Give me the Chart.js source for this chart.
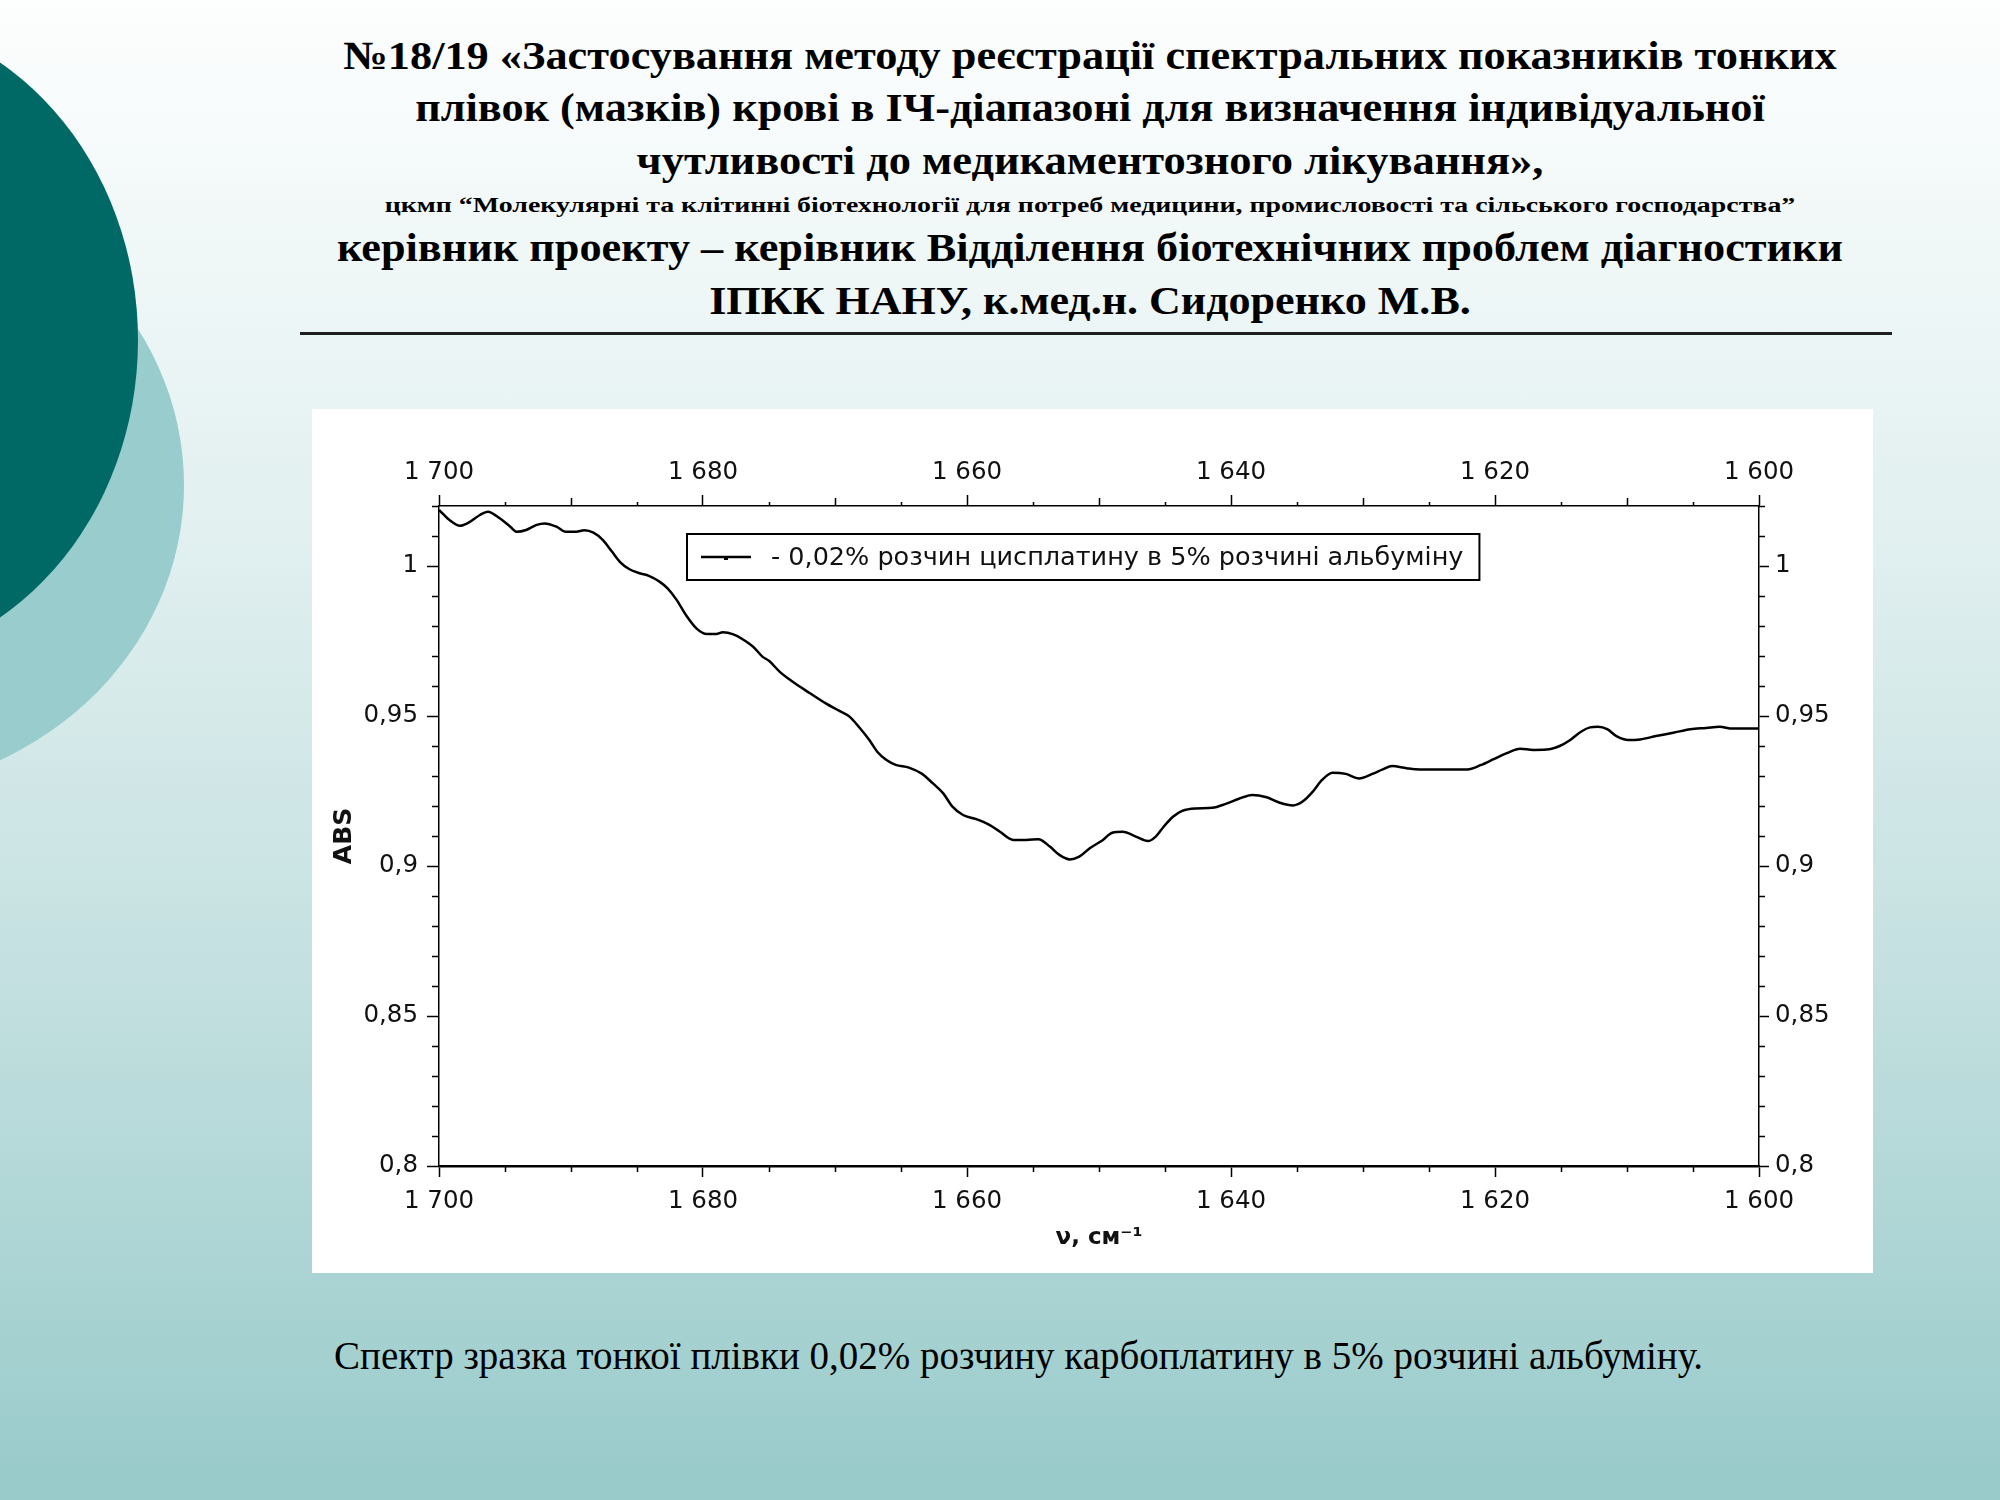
<!DOCTYPE html>
<html>
<head>
<meta charset="utf-8">
<title>Спектр зразка тонкої плівки</title>
<style>
    html, body { margin: 0; padding: 0; }
    body {
        width: 2000px; height: 1500px; overflow: hidden; position: relative;
        background: linear-gradient(to bottom, #fdfefe 0%, #e2f0f0 35%, #c4e0e0 65%, #98caca 100%);
        font-family: "Liberation Serif", "Times New Roman", serif; color: #000;
    }
    .blob { position: absolute; border-radius: 50%; }
    #blobLight { left: -484px; top: 177px; width: 668px; height: 616px; background: #99cccc; }
    #blobDark { left: -438px; top: 15px; width: 576px; height: 650px; background: #006966; }
    .tl {
        position: absolute; left: 1090px; white-space: nowrap; line-height: 1;
        font-weight: bold; transform-origin: center;
    }
    .big { font-size: 40px; }
    .small { font-size: 20px; }
    #rule { position: absolute; left: 300px; top: 332px; width: 1592px; height: 3px; background: #1e1e1e; }
    #panel { position: absolute; left: 312px; top: 409px; width: 1561px; height: 864px; background: #fff; }
    #caption {
        position: absolute; left: 334px; top: 1336px; font-size: 40px; line-height: 1;
        white-space: nowrap; transform-origin: left center;
    }
</style>
</head>
<body>
<div class="blob" id="blobLight"></div>
<div class="blob" id="blobDark"></div>

<div class="tl big" style="top:36px" data-w="1493">№18/19 «Застосування методу реєстрації спектральних показників тонких</div>
<div class="tl big" style="top:88px" data-w="1350">плівок (мазків) крові в ІЧ-діапазоні для визначення індивідуальної</div>
<div class="tl big" style="top:141px" data-w="907">чутливості до медикаментозного лікування»,</div>
<div class="tl small" style="top:195px" data-w="1410">цкмп “Молекулярні та клітинні біотехнології для потреб медицини, промисловості та сільського господарства”</div>
<div class="tl big" style="top:228px" data-w="1506">керівник проекту – керівник Відділення біотехнічних проблем діагностики</div>
<div class="tl big" style="top:281px" data-w="762">ІПКК НАНУ, к.мед.н. Сидоренко М.В.</div>
<div id="rule"></div>

<div id="panel"><canvas id="spectrum" width="1561" height="864"></canvas></div>

<div id="caption" data-w="1369">Спектр зразка тонкої плівки 0,02% розчину карбоплатину в 5% розчині альбуміну.</div>

<script src="https://cdn.jsdelivr.net/npm/chart.js"></script>
<script>
// wavenumber, cm-1 (left to right)
const wavenumber = [
    1700.0, 1699.2, 1698.4, 1697.7, 1696.9, 1696.3, 1695.4, 1694.6, 1694.1, 1693.4,
    1692.6, 1692.0, 1691.1, 1690.4, 1689.6, 1689.0, 1688.3, 1687.6, 1686.9, 1686.3,
    1685.6, 1684.8, 1684.1, 1683.3, 1682.7, 1682.0, 1681.3, 1680.5, 1679.7, 1679.0,
    1678.5, 1677.7, 1677.0, 1676.2, 1675.5, 1675.0, 1674.2, 1673.2, 1671.9, 1670.7,
    1669.7, 1668.9, 1668.2, 1667.4, 1666.8, 1666.1, 1665.4, 1664.4, 1663.4, 1662.6,
    1661.8, 1661.1, 1660.3, 1659.3, 1658.3, 1657.5, 1656.5, 1655.5, 1654.6, 1653.7,
    1653.0, 1652.2, 1651.5, 1650.7, 1649.7, 1649.0, 1648.2, 1647.2, 1646.3, 1645.7,
    1645.1, 1644.4, 1643.7, 1642.7, 1641.4, 1640.4, 1639.4, 1638.4, 1637.3, 1636.3,
    1635.3, 1634.6, 1633.8, 1633.1, 1632.3, 1631.3, 1630.3, 1629.3, 1628.5, 1627.8,
    1626.7, 1625.7, 1623.9, 1622.1, 1621.1, 1620.1, 1619.1, 1618.1, 1617.1, 1616.1,
    1615.1, 1614.3, 1613.6, 1612.8, 1612.2, 1611.5, 1610.8, 1609.9, 1609.0, 1607.8,
    1606.5, 1605.2, 1604.0, 1603.0, 1602.0, 1600.0
];
// absorbance
const absorbance = [
    1.0187, 1.0153, 1.0134, 1.0146, 1.0170, 1.0181, 1.0159, 1.0131, 1.0114, 1.0120,
    1.0137, 1.0142, 1.0131, 1.0114, 1.0114, 1.0119, 1.0111, 1.0087, 1.0048, 1.0014,
    0.9990, 0.9976, 0.9967, 0.9948, 0.9926, 0.9887, 0.9837, 0.9792, 0.9773, 0.9773,
    0.9779, 0.9772, 0.9756, 0.9731, 0.9698, 0.9684, 0.9648, 0.9614, 0.9576, 0.9542,
    0.9518, 0.9498, 0.9464, 0.9420, 0.9381, 0.9353, 0.9337, 0.9328, 0.9307, 0.9276,
    0.9242, 0.9198, 0.9170, 0.9156, 0.9137, 0.9114, 0.9087, 0.9087, 0.9089, 0.9064,
    0.9037, 0.9022, 0.9031, 0.9059, 0.9087, 0.9111, 0.9114, 0.9098, 0.9083, 0.9098,
    0.9131, 0.9164, 0.9184, 0.9192, 0.9194, 0.9207, 0.9224, 0.9237, 0.9229, 0.9211,
    0.9202, 0.9214, 0.9248, 0.9287, 0.9311, 0.9307, 0.9292, 0.9307, 0.9322, 0.9333,
    0.9326, 0.9322, 0.9322, 0.9322, 0.9336, 0.9356, 0.9376, 0.9391, 0.9387, 0.9388,
    0.9400, 0.9420, 0.9444, 0.9462, 0.9464, 0.9456, 0.9433, 0.9420, 0.9422, 0.9433,
    0.9444, 0.9456, 0.9460, 0.9464, 0.9458, 0.9458
];

const seriesLabel = '- 0,02% розчин цисплатину в 5% розчині альбуміну';
const xRange = [1600, 1700];
const yRange = [0.8, 1.02];
const xMajor = 20, xMid = 10, xMinor = 5;
const yMajor = 0.05, yMinor = 0.01;

// squeeze title lines to the widths seen in the picture
document.querySelectorAll('[data-w]').forEach(el => {
    const k = +el.dataset.w / el.offsetWidth;
    if (el.classList.contains('tl')) el.style.transform = 'translateX(-50%) scaleX(' + k + ')';
    else el.style.transform = 'scaleX(' + k + ')';
});

function fmtX(v) {
    const n = Math.round(v);
    return Math.floor(n / 1000) + ' ' + String(n % 1000).padStart(3, '0');
}
function fmtY(v) {
    return String(Math.round(v * 100) / 100).replace('.', ',');
}

Chart.defaults.font.family = 'DejaVu Sans';
Chart.defaults.color = '#111';

const tickFont = { family: 'DejaVu Sans', size: 24.5 };

function xAxis(pos, size, pad) {
    return {
        type: 'linear', position: pos, min: xRange[0], max: xRange[1], reverse: true,
        ticks: { stepSize: xMajor, callback: fmtX, font: tickFont, color: '#111', padding: pad,
                 maxRotation: 0, autoSkip: false, includeBounds: false },
        grid: { drawOnChartArea: false, drawTicks: true, tickLength: 11, tickColor: '#000', tickWidth: 1.5 },
        border: { display: true, color: '#000', width: pos === 'bottom' ? 2.5 : 1.5 },
        afterFit: s => { s.height = size; }
    };
}
function yAxis(pos, size, tl, pad) {
    return {
        type: 'linear', position: pos, min: yRange[0], max: yRange[1],
        ticks: { stepSize: yMajor, callback: fmtY, font: tickFont, color: '#111', padding: pad,
                 autoSkip: false, includeBounds: false },
        grid: { drawOnChartArea: false, drawTicks: true, tickLength: tl, tickColor: '#000', tickWidth: 1.5 },
        border: { display: true, color: '#000', width: 1.5 },
        afterFit: s => { s.width = size; }
    };
}

const minorTicks = {
    id: 'minorTicks',
    afterDraw(chart) {
        const { ctx, chartArea: a, scales } = chart;
        ctx.save();
        ctx.strokeStyle = '#000';
        ctx.lineWidth = 1.5;
        ctx.beginPath();
        for (let v = xRange[0]; v <= xRange[1]; v += xMinor) {
            if (v % xMajor === 0) continue;
            const px = Math.round(scales.x.getPixelForValue(v)) + 0.5;
            const topLen = v % xMid === 0 ? 8 : 4;
            ctx.moveTo(px, a.top); ctx.lineTo(px, a.top - topLen);
            ctx.moveTo(px, a.bottom); ctx.lineTo(px, a.bottom + 6);
        }
        const steps = Math.round((yRange[1] - yRange[0]) / yMinor);
        const per = Math.round(yMajor / yMinor);
        for (let i = 0; i <= steps; i++) {
            if (i % per === 0) continue;
            const py = Math.round(scales.y.getPixelForValue(yRange[0] + i * yMinor)) + 0.5;
            ctx.moveTo(a.left, py); ctx.lineTo(a.left - 7, py);
            ctx.moveTo(a.right, py); ctx.lineTo(a.right + 6, py);
        }
        ctx.stroke();

        // legend box
        const ds = chart.data.datasets[0];
        const bx = a.left + 248, by = a.top + 28, bh = 46;
        ctx.font = '25.5px "DejaVu Sans"';
        const tw = ctx.measureText(ds.label).width;
        const bw = 84 + tw + 16;
        ctx.lineWidth = 2;
        ctx.strokeStyle = '#000';
        ctx.strokeRect(bx, by, bw, bh);
        const cy = by + bh / 2;
        ctx.lineWidth = 2.5;
        ctx.strokeStyle = ds.borderColor;
        ctx.beginPath(); ctx.moveTo(bx + 14, cy); ctx.lineTo(bx + 64, cy); ctx.stroke();
        ctx.fillStyle = ds.borderColor;
        ctx.fillRect(bx + 37, cy - 1, 4, 4);
        ctx.fillStyle = '#111';
        ctx.textBaseline = 'middle';
        ctx.fillText(ds.label, bx + 84, cy + 1);
        ctx.restore();
    }
};

const yLeft = yAxis('left', 127, 12, 9);
yLeft.title = { display: true, text: 'ABS', color: '#111',
                font: { family: 'DejaVu Sans', size: 25, weight: 'bold' }, padding: { top: 17, bottom: 0 } };
const xBottom = xAxis('bottom', 107, 10);
xBottom.title = { display: true, text: 'ν, см⁻¹', color: '#111',
                  font: { family: 'DejaVu Sans', size: 23, weight: 'bold' }, padding: { top: 0, bottom: 21 } };

new Chart(document.getElementById('spectrum'), {
    type: 'line',
    data: {
        datasets: [{
            label: seriesLabel,
            data: wavenumber.map((v, i) => ({ x: v, y: absorbance[i] })),
            borderColor: '#000',
            borderWidth: 2.5,
            pointRadius: 0,
            fill: false,
            cubicInterpolationMode: 'monotone'
        }]
    },
    options: {
        responsive: false,
        animation: false,
        devicePixelRatio: 1,
        layout: { padding: 0 },
        plugins: { legend: { display: false }, tooltip: { enabled: false } },
        scales: {
            x: xBottom,
            x2: xAxis('top', 97, 8),
            y: yLeft,
            y2: yAxis('right', 114, 10, 6)
        }
    },
    plugins: [minorTicks]
});
</script>
</body>
</html>
